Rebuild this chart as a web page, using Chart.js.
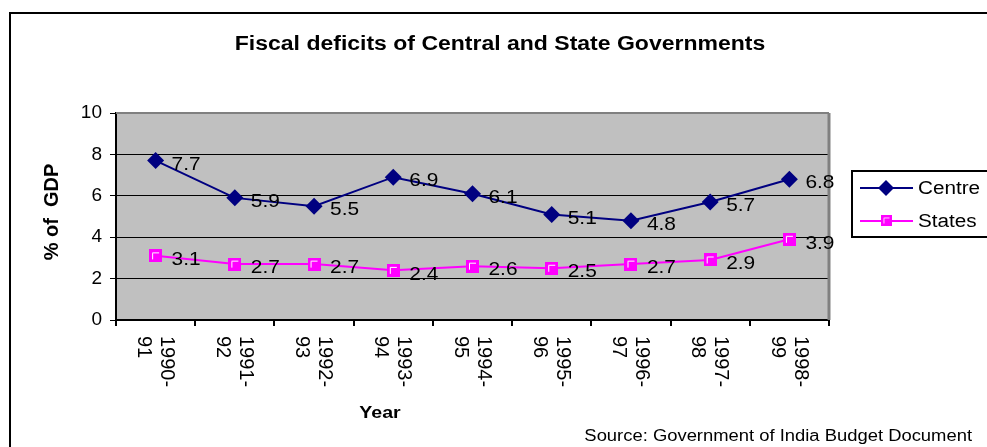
<!DOCTYPE html>
<html lang="en">
<head>
    <meta charset="UTF-8">
    <title>Fiscal deficits</title>
    <script src="https://cdn.jsdelivr.net/npm/chart.js"></script>
    <style>
        body { margin: 0; background: #fff; }
        canvas { display: block; }
    </style>
</head>
<body>
    <canvas id="myChart" width="987" height="447"></canvas>

    <script>
        const years = [['1990-', '91'], ['1991-', '92'], ['1992-', '93'], ['1993-', '94'], ['1994-', '95'],
                       ['1995-', '96'], ['1996-', '97'], ['1997-', '98'], ['1998-', '99']];
        const centre = [7.7, 5.9, 5.5, 6.9, 6.1, 5.1, 4.8, 5.7, 6.8];
        const states = [3.1, 2.7, 2.7, 2.4, 2.6, 2.5, 2.7, 2.9, 3.9];
        const yTicks = [0, 2, 4, 6, 8, 10];

        const NAVY = '#000080';
        const PINK = '#FF00FF';
        const FONT = 'Arial, "Liberation Sans", sans-serif';
        const SX = 1.15; // text is a bit wide in this layout

        // square marker with a light inner edge
        function squareMarker(size) {
            const c = document.createElement('canvas');
            c.width = size; c.height = size;
            const g = c.getContext('2d');
            g.fillStyle = PINK;
            g.fillRect(0, 0, size, size);
            g.strokeStyle = '#ffffff';
            g.lineWidth = 1;
            g.beginPath();
            g.moveTo(3.5, size - 3);
            g.lineTo(3.5, 3.5);
            g.lineTo(size - 3, 3.5);
            g.stroke();
            return c;
        }
        const pinkSquare = squareMarker(13);

        function text(ctx, str, x, y, font, align, rot, sx) {
            const k = sx || SX;
            ctx.save();
            ctx.translate(x, y);
            if (rot) {
                ctx.rotate(rot);
                ctx.scale(1, k);
            } else {
                ctx.scale(k, 1);
            }
            ctx.font = font;
            ctx.textAlign = align || 'center';
            ctx.textBaseline = 'middle';
            ctx.fillStyle = '#000';
            ctx.fillText(str, 0, 0);
            ctx.restore();
        }

        const decor = {
            id: 'decor',
            beforeDraw(chart) {
                const { ctx, chartArea: a } = chart;
                ctx.save();
                ctx.fillStyle = '#C0C0C0';
                ctx.fillRect(a.left, a.top, a.right - a.left, a.bottom - a.top);
                ctx.restore();
            },
            afterDraw(chart) {
                const { ctx, chartArea: a } = chart;
                const x = chart.scales.x;
                ctx.save();
                // plot frame top / right
                ctx.strokeStyle = '#808080';
                ctx.lineWidth = 2;
                ctx.beginPath();
                ctx.moveTo(a.left, a.top);
                ctx.lineTo(a.right, a.top);
                ctx.stroke();
                ctx.lineWidth = 3;
                ctx.beginPath();
                ctx.moveTo(a.right, a.top);
                ctx.lineTo(a.right, a.bottom);
                ctx.stroke();

                // outer border
                ctx.strokeStyle = '#000';
                ctx.lineWidth = 2;
                ctx.strokeRect(10, 13, 990, 460);

                // titles
                text(ctx, 'Fiscal deficits of Central and State Governments', 500, 44, 'bold 20px ' + FONT);
                text(ctx, '% of  GDP', 52, 212, 'bold 20px ' + FONT, 'center', -Math.PI / 2, 1.05);
                text(ctx, 'Year', 380, 413, 'bold 17px ' + FONT);
                text(ctx, 'Source: Government of India Budget Document', 972, 437, '16px ' + FONT, 'right');

                // x labels, rotated clockwise, two lines each
                years.forEach((lab, i) => {
                    const cx = x.getPixelForValue(i);
                    text(ctx, lab[0], cx + 11, a.bottom + 16, '20px ' + FONT, 'left', Math.PI / 2, 1.05);
                    text(ctx, lab[1], cx - 12, a.bottom + 16, '20px ' + FONT, 'left', Math.PI / 2, 1.05);
                });

                // value labels
                chart.data.datasets.forEach((ds, d) => {
                    chart.getDatasetMeta(d).data.forEach((pt, i) => {
                        text(ctx, String(ds.data[i]), pt.x + 16, pt.y + 4, '19px ' + FONT, 'left', 0, 1.1);
                    });
                });

                // legend
                ctx.lineWidth = 2;
                ctx.strokeStyle = '#000';
                ctx.strokeRect(852, 171, 140, 66);
                const rows = [[188, 0], [221, 1]];
                rows.forEach(([ly, d]) => {
                    const ds = chart.data.datasets[d];
                    ctx.strokeStyle = ds.borderColor;
                    ctx.lineWidth = 2;
                    ctx.beginPath();
                    ctx.moveTo(860, ly);
                    ctx.lineTo(913, ly);
                    ctx.stroke();
                    if (d === 0) {
                        ctx.fillStyle = NAVY;
                        ctx.beginPath();
                        ctx.moveTo(886, ly - 8);
                        ctx.lineTo(894, ly);
                        ctx.lineTo(886, ly + 8);
                        ctx.lineTo(878, ly);
                        ctx.closePath();
                        ctx.fill();
                    } else {
                        ctx.drawImage(pinkSquare, 881, ly - 6, 11, 11);
                    }
                    text(ctx, ds.label, 918, ly + 1, '18px ' + FONT, 'left');
                });
                ctx.restore();
            }
        };

        const ctx = document.getElementById('myChart').getContext('2d');
        new Chart(ctx, {
            type: 'line',
            data: {
                labels: years,
                datasets: [{
                    label: 'Centre',
                    data: centre,
                    borderColor: NAVY,
                    backgroundColor: NAVY,
                    borderWidth: 2,
                    pointStyle: 'rectRot',
                    pointRadius: 8.5,
                    pointBorderWidth: 0,
                    tension: 0
                }, {
                    label: 'States',
                    data: states,
                    borderColor: PINK,
                    backgroundColor: PINK,
                    borderWidth: 2,
                    pointStyle: pinkSquare,
                    tension: 0
                }]
            },
            options: {
                responsive: false,
                animation: false,
                events: [],
                layout: { padding: { left: 0, top: 113, right: 158, bottom: 0 } },
                plugins: { legend: { display: false }, title: { display: false }, tooltip: { enabled: false } },
                scales: {
                    x: {
                        offset: true,
                        afterFit: s => { s.height = 127; },
                        ticks: { display: false },
                        grid: { offset: true, drawOnChartArea: false, drawTicks: true, tickLength: 6, color: '#000', lineWidth: 2 },
                        border: { color: '#000', width: 2 }
                    },
                    y: {
                        min: 0,
                        max: 10,
                        afterFit: s => { s.width = 116; },
                        afterBuildTicks: s => { s.ticks = yTicks.map(v => ({ value: v })); },
                        ticks: { color: '#000', font: { family: FONT, size: 19 }, padding: 8 },
                        grid: {
                            color: c => (c.tick && c.tick.value === 10) ? '#808080' : '#000',
                            lineWidth: 1,
                            tickLength: 6,
                            tickColor: '#000'
                        },
                        border: { color: '#000', width: 2 }
                    }
                }
            },
            plugins: [decor]
        });
    </script>
</body>
</html>
